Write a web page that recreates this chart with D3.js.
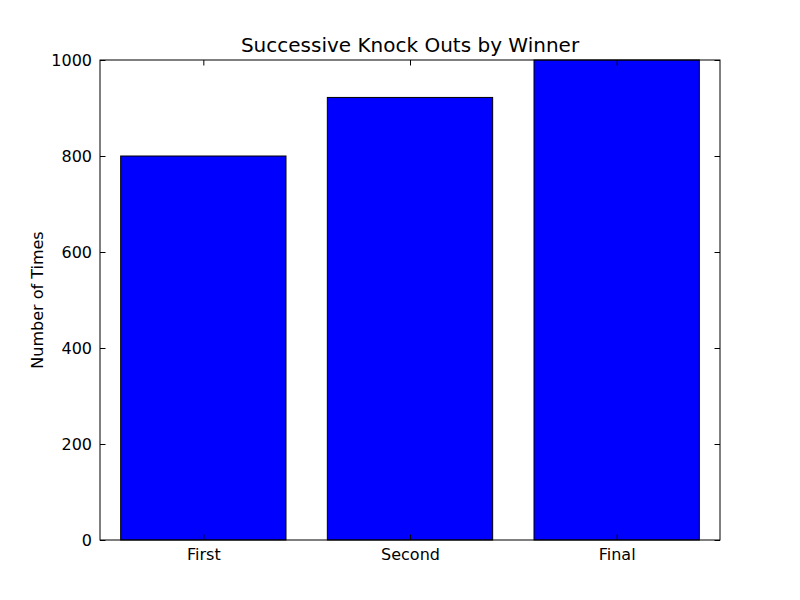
<!DOCTYPE html>
<html lang="en">
  <head>
    <meta charset="UTF-8" />
    <title>Successive Knock Outs by Winner</title>
    <script src="https://d3js.org/d3.v7.min.js"></script>
    <style>
      body { margin: 0; background: #fff; }
      text { font-family: "DejaVu Sans", sans-serif; }
    </style>
  </head>
  <body>
    <div id="chart"></div>
    <script>
      const categories = ["First", "Second", "Final"];
      const values = [800, 922, 1000];
      const yTicks = [0, 200, 400, 600, 800, 1000];

      const width = 800, height = 600;
      const margin = { top: 60, right: 80, bottom: 60, left: 100 };
      const iw = width - margin.left - margin.right;
      const ih = height - margin.top - margin.bottom;

      const svg = d3.select("#chart").append("svg")
        .attr("width", width)
        .attr("height", height);

      const g = svg.append("g")
        .attr("transform", `translate(${margin.left},${margin.top})`);

      // bars sit at 0.1..0.9, 1.1..1.9, 2.1..2.9 on a 0..3 axis
      const x = d3.scaleLinear().domain([0, categories.length]).range([0, iw]);
      const y = d3.scaleLinear().domain([0, 1000]).range([ih, 0]);

      g.selectAll(".bar")
        .data(values)
        .enter()
        .append("rect")
        .attr("class", "bar")
        .attr("x", (d, i) => x(i + 0.1))
        .attr("y", d => y(d))
        .attr("width", x(0.8) - x(0))
        .attr("height", d => y(0) - y(d))
        .style("fill", "#0000ff")
        .style("stroke", "#000")
        .style("stroke-width", 1);

      const tickLen = 5.5;
      const centers = categories.map((c, i) => i + 0.5);

      const axisStyle = sel => {
        sel.select(".domain").remove();
        sel.selectAll("line").style("stroke", "#000");
        sel.selectAll("text").style("font-size", "16px").style("fill", "#000");
      };

      g.append("g")
        .attr("transform", `translate(0,${ih})`)
        .call(d3.axisBottom(x).tickValues(centers)
          .tickFormat((d, i) => categories[i])
          .tickSizeInner(-tickLen).tickSizeOuter(0).tickPadding(9))
        .call(axisStyle);

      g.append("g")
        .call(d3.axisTop(x).tickValues(centers).tickFormat("")
          .tickSizeInner(-tickLen).tickSizeOuter(0))
        .call(axisStyle);

      g.append("g")
        .call(d3.axisLeft(y).tickValues(yTicks).tickFormat(d3.format("d"))
          .tickSizeInner(-tickLen).tickSizeOuter(0).tickPadding(8))
        .call(axisStyle);

      g.append("g")
        .attr("transform", `translate(${iw},0)`)
        .call(d3.axisRight(y).tickValues(yTicks).tickFormat("")
          .tickSizeInner(-tickLen).tickSizeOuter(0))
        .call(axisStyle);

      g.append("rect")
        .attr("width", iw)
        .attr("height", ih)
        .style("fill", "none")
        .style("stroke", "#000")
        .style("stroke-width", 1);

      svg.append("text")
        .attr("x", margin.left + iw / 2)
        .attr("y", margin.top - 8)
        .attr("text-anchor", "middle")
        .style("font-size", "20px")
        .text("Successive Knock Outs by Winner");

      svg.append("text")
        .attr("transform", `translate(43,${margin.top + ih / 2}) rotate(-90)`)
        .attr("text-anchor", "middle")
        .style("font-size", "16px")
        .text("Number of Times");
    </script>
  </body>
</html>
